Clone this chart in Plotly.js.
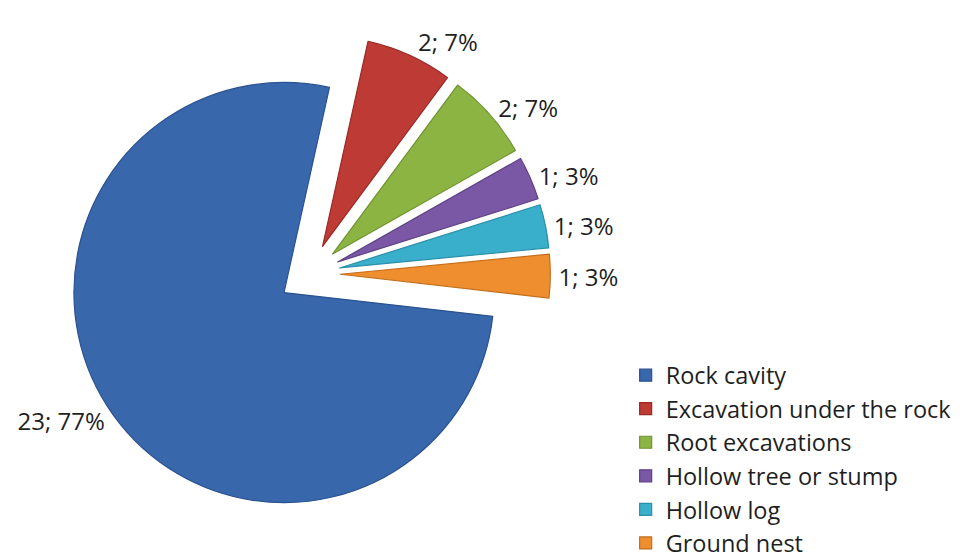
<!DOCTYPE html>
<html>
<head>
<meta charset="utf-8">
<script src="https://cdn.plot.ly/plotly-3.0.1.min.js"></script>
<style>
  html, body { margin: 0; padding: 0; background: #ffffff; overflow: hidden; }
  #chart { width: 970px; height: 560px; }
</style>
</head>
<body>
<div id="chart"></div>
<script>
// Data
const categories = [
  "Rock cavity",
  "Excavation under the rock",
  "Root excavations",
  "Hollow tree or stump",
  "Hollow log",
  "Ground nest"
];
const counts = [23, 2, 2, 1, 1, 1];

// Styling
const sliceColors = ["#3867AC", "#BE3A34", "#8CB443", "#7A58A6", "#3AAFCB", "#EF8E2E"];
const edgeColors  = ["#2B5290", "#992A25", "#6F9330", "#5E4185", "#2A8FA8", "#C46E1C"];
const slicePulls  = [0.152, 0.144, 0.144, 0.144, 0.144, 0.144];

const W = 970, H = 560;
// pie box geometry (pixels) -> domain
const boxLeft = 68, boxRight = 552, boxTop = 32, boxBottom = 516;

const fontFamily = "'Open Sans', Lato, sans-serif";

const trace = {
  type: "pie",
  labels: categories,
  values: counts,
  sort: false,
  direction: "clockwise",
  rotation: 96.5,
  pull: slicePulls,
  marker: { colors: sliceColors, line: { color: edgeColors, width: 1.2 } },
  texttemplate: "%{value}; %{percent:.0%}",
  textposition: "outside",
  outsidetextfont: { family: fontFamily, size: 24, color: "#1f1f1f" },
  hoverinfo: "label+value+percent",
  domain: {
    x: [boxLeft / W, boxRight / W],
    y: [(H - boxBottom) / H, (H - boxTop) / H]
  },
  showlegend: true
};

const layout = {
  width: W,
  height: H,
  margin: { l: 0, r: 0, t: 0, b: 0, autoexpand: false },
  paper_bgcolor: "#ffffff",
  plot_bgcolor: "#ffffff",
  font: { family: fontFamily, size: 24, color: "#1f1f1f" },
  legend: {
    x: 0.645,
    xanchor: "left",
    y: 0.369,
    yanchor: "top",
    bgcolor: "rgba(0,0,0,0)",
    font: { family: fontFamily, size: 23.5, color: "#1f1f1f" },
    itemwidth: 30,
    traceorder: "normal"
  }
};

Plotly.newPlot("chart", [trace], layout, { displayModeBar: false, staticPlot: true });
</script>
</body>
</html>
